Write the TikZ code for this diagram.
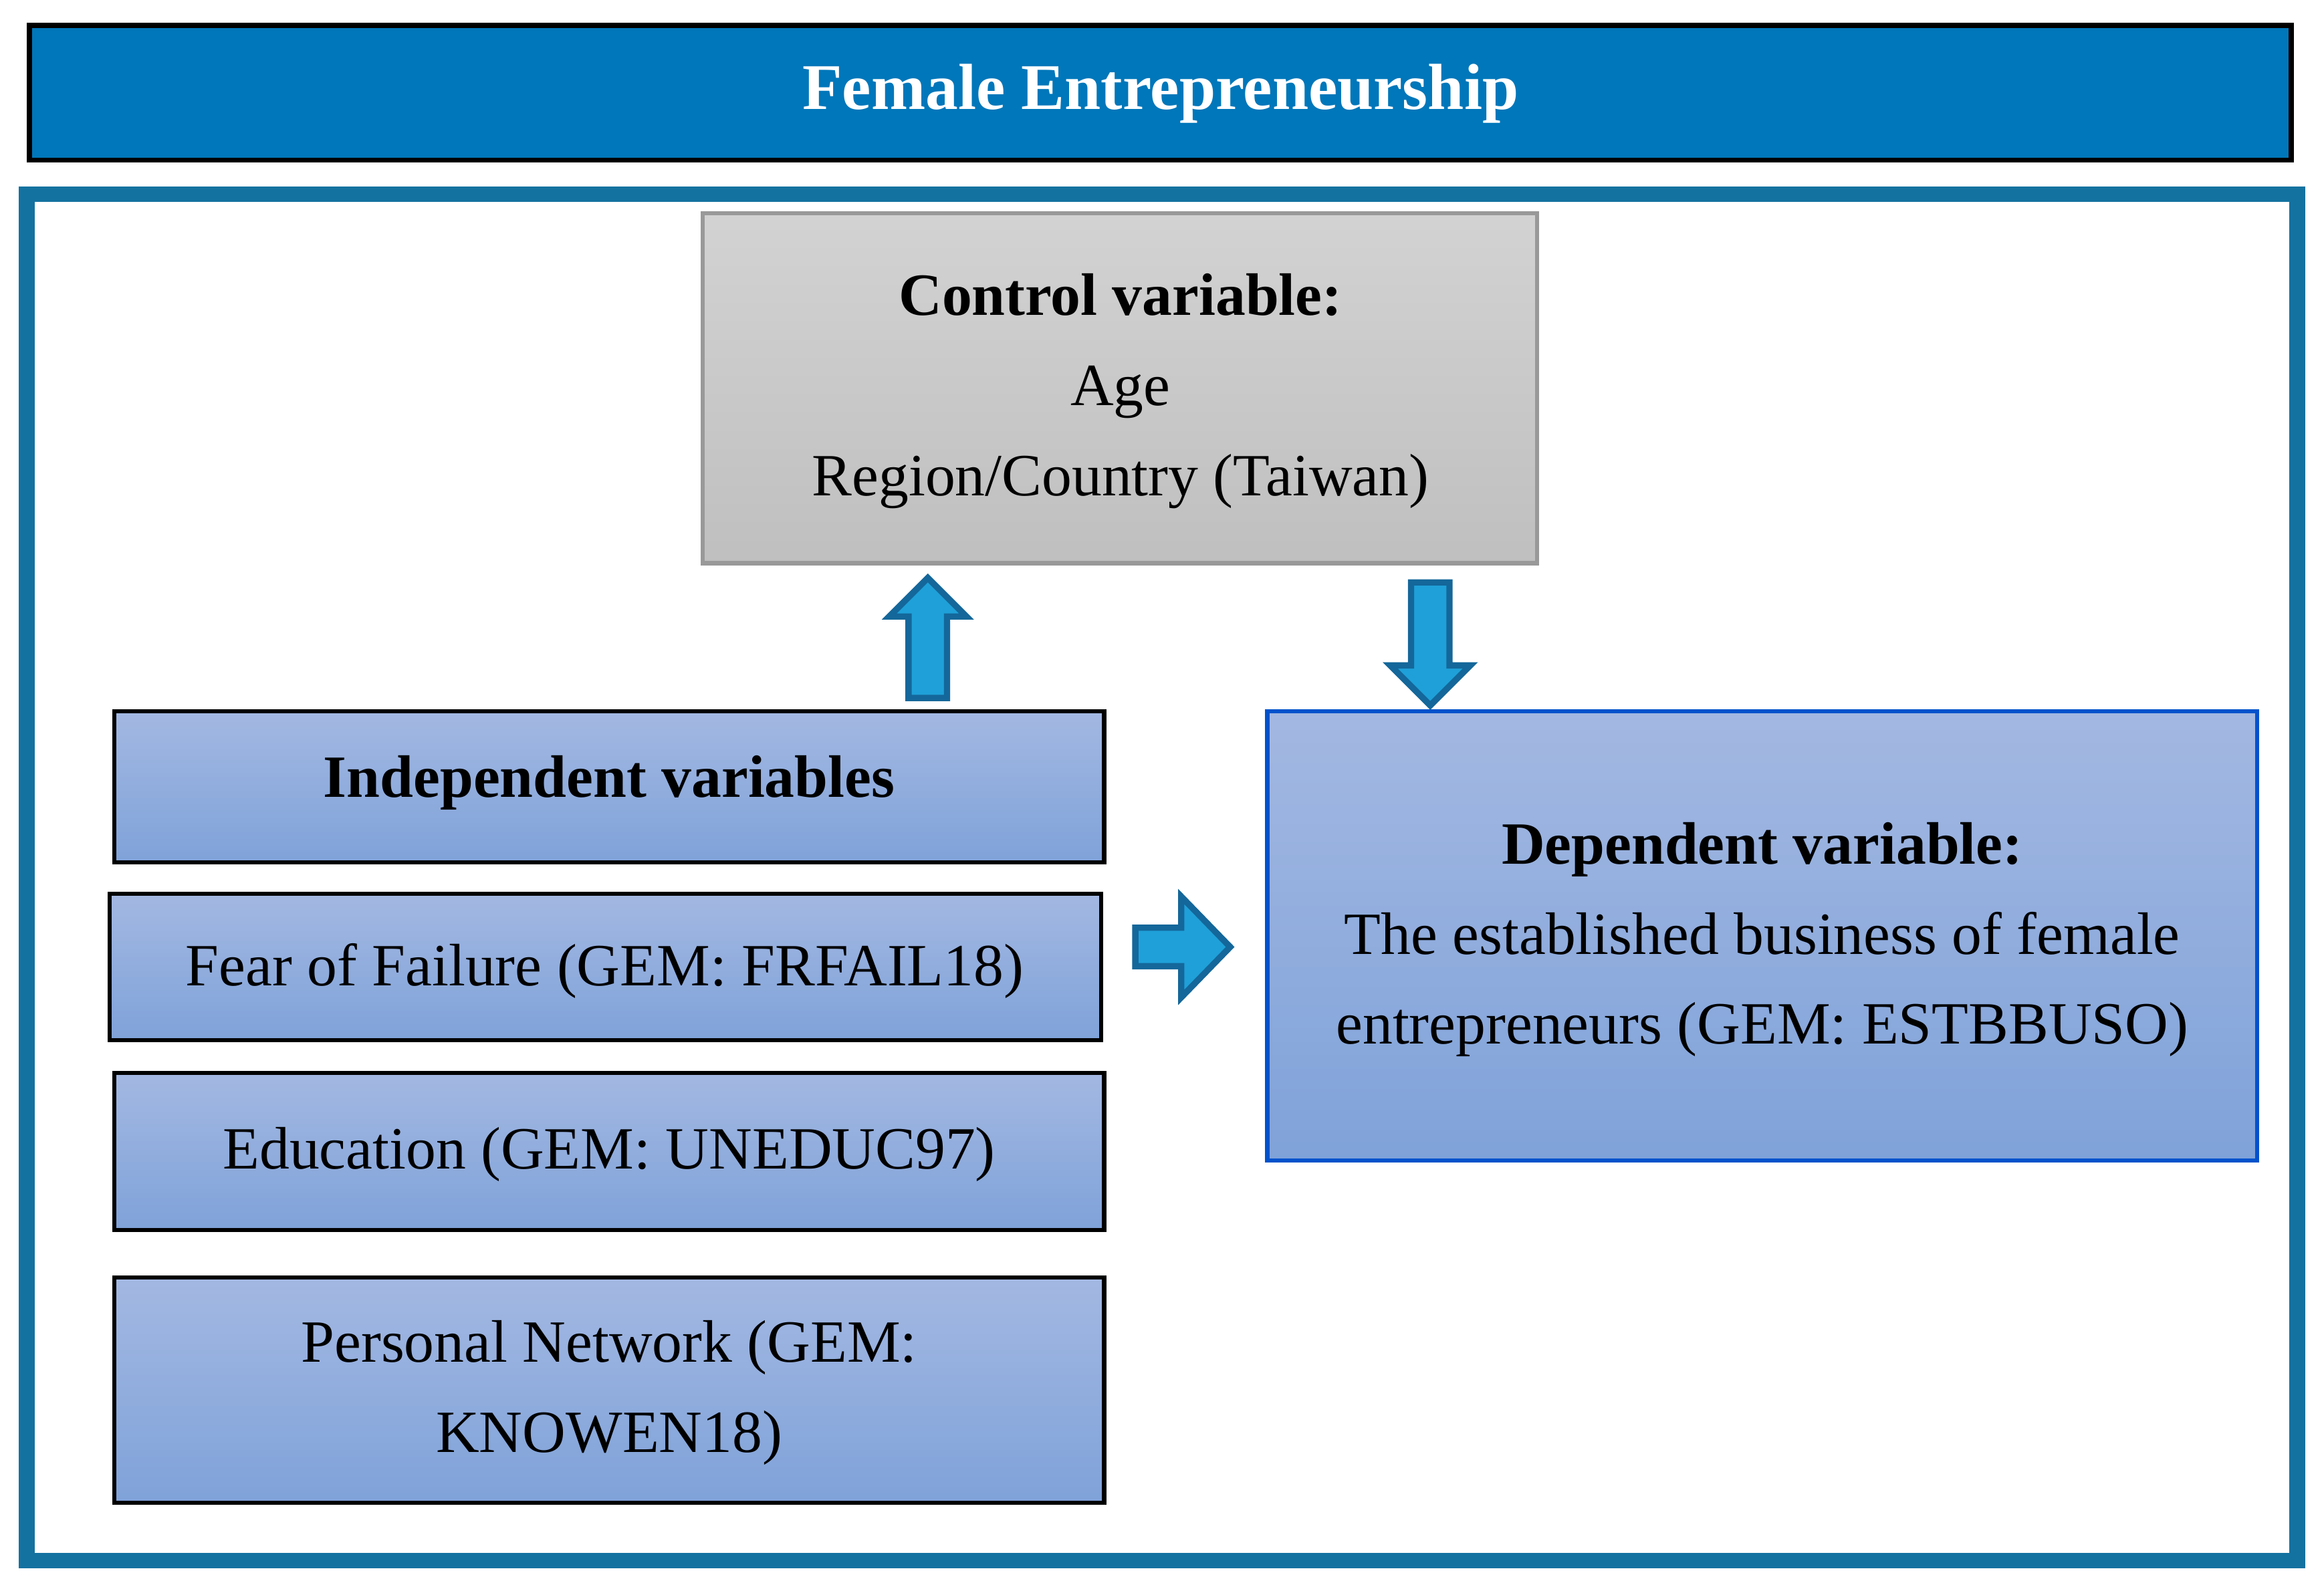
\documentclass[tikz,border=0pt]{standalone}
\usepackage{fontspec}
\setmainfont{Liberation Serif}
\begin{document}
\begin{tikzpicture}[x=0.01cm,y=-0.01cm,
  txt/.style={font=\fontsize{11.5}{17.3}\selectfont,align=center},
  bbox/.style={draw=black,line width=0.8pt,top color=blue!20!gray!20!cyan!0!white!0!blueA,bottom color=blueB},
  barrow/.style={fill=arrowfill,draw=arrowdraw,line width=1.2pt,line join=miter}]
\definecolor{blueA}{HTML}{A3B8E2}
\definecolor{blueB}{HTML}{7FA2D9}
\definecolor{banner}{HTML}{0077BA}
\definecolor{frame}{HTML}{1472A0}
\definecolor{arrowfill}{HTML}{1FA0D8}
\definecolor{arrowdraw}{HTML}{14679A}
\tikzset{bbox/.style={draw=black,line width=0.8pt,top color=blueA,bottom color=blueB}}
\useasboundingbox (0,0) rectangle (1568,1072);
% banner
\draw[fill=banner,draw=black,line width=1pt] (20,17) rectangle (1546,108);
\node[txt,text=white,font=\fontsize{12.5}{15}\selectfont\bfseries] (title) at (783,63) {Female Entrepreneurship};
% frame
\draw[frame,line width=3pt] (18,131) rectangle (1550,1053);
% control
\draw[draw=gray!80,line width=0.8pt,top color=gray!35,bottom color=gray!50] (474,144) rectangle (1037,380);
\node[txt] (ctrl) at (756,264) {\textbf{Control variable:}\\Age\\Region/Country (Taiwan)};
% independent boxes
\draw[bbox] (77,480) rectangle (745,582);
\node[txt] (ind) at (411,528) {\textbf{Independent variables}};
\draw[bbox] (74,603) rectangle (743,702);
\node[txt] (fear) at (408,655) {Fear of Failure (GEM: FRFAIL18)};
\draw[bbox] (77,724) rectangle (745,830);
\node[txt] (edu) at (411,779) {Education (GEM: UNEDUC97)};
\draw[bbox] (77,862) rectangle (745,1014);
\node[txt] (pn) at (411,940) {Personal Network (GEM:\\KNOWEN18)};
% dependent
\draw[draw=blue!60!cyan!80!black,line width=0.8pt,top color=blueA,bottom color=blueB] (855,480) rectangle (1523,783);
\node[txt] (dep) at (1189,634) {\textbf{Dependent variable:}\\The established business of female\\entrepreneurs (GEM: ESTBBUSO)};
% block arrows
\draw[barrow] (613,471) -- (613,416) -- (600,416) -- (626,390) -- (652,416) -- (639,416) -- (639,471) -- cycle;
\draw[barrow] (952,393) -- (978,393) -- (978,449) -- (992,449) -- (965,476) -- (938,449) -- (952,449) -- cycle;
\draw[barrow] (766,626) -- (797,626) -- (797,605) -- (830,639) -- (797,673) -- (797,652) -- (766,652) -- cycle;
\end{tikzpicture}
\end{document}
